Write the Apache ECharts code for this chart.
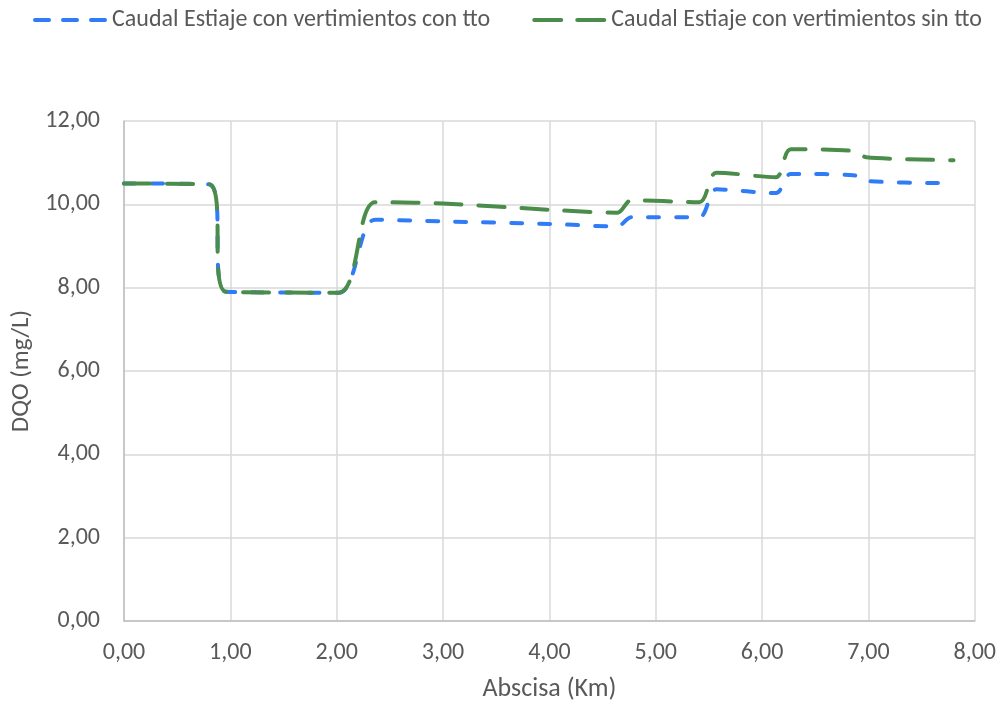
<!DOCTYPE html>
<html>
<head>
<meta charset="utf-8">
<script src="https://cdn.jsdelivr.net/npm/echarts@6/dist/echarts.min.js"></script>
<style>
  html, body { margin: 0; padding: 0; background: #fff; }
  #chart { width: 999px; height: 707px; }
</style>
</head>
<body>
<div id="chart"></div>
<script>
// abscisa (km) shared by both series
const abscisa = [0, 0.80, 0.96, 2.02, 2.36, 3.0, 4.0, 4.64, 4.77, 5.41, 5.57, 6.13, 6.27, 6.86, 6.98, 7.8]
const conTto = [10.50, 10.48, 7.90, 7.88, 9.63, 9.59, 9.53, 9.47, 9.69, 9.69, 10.36, 10.27, 10.73, 10.70, 10.56, 10.51]
const sinTto = [10.50, 10.48, 7.90, 7.88, 10.05, 10.02, 9.87, 9.80, 10.10, 10.05, 10.76, 10.65, 11.32, 11.28, 11.13, 11.06]

const nombres = ['Caudal Estiaje con vertimientos con tto', 'Caudal Estiaje con vertimientos sin tto']
const font = 'Calibri, Carlito, "Open Sans", sans-serif'
const fmt = v => v.toFixed(2).replace('.', ',')

const chart = echarts.init(document.getElementById('chart'))

chart.setOption({
    animation: false,
    textStyle: { fontFamily: font },
    legend: {
        top: 3,
        left: 28,
        itemWidth: 72,
        itemHeight: 14,
        itemGap: 42,
        itemStyle: { opacity: 0 },
        textStyle: { fontSize: 24, color: '#595959', fontFamily: font },
        data: [
            { name: nombres[0], lineStyle: { width: 4, type: [14, 14], cap: 'round' } },
            { name: nombres[1], lineStyle: { width: 4, type: [27, 16], cap: 'round' } }
        ]
    },
    grid: { left: 124, right: 24, top: 121, bottom: 84 },
    xAxis: {
        type: 'value',
        min: 0, max: 8, interval: 1,
        name: 'Abscisa (Km)',
        nameLocation: 'middle',
        nameGap: 55,
        nameTextStyle: { fontSize: 26, color: '#595959' },
        axisLine: { show: true, lineStyle: { color: '#bfbfbf', width: 1.5 } },
        axisTick: { show: false },
        axisLabel: { fontSize: 24, color: '#595959', margin: 20, formatter: fmt },
        splitLine: { show: true, lineStyle: { color: '#d9d9d9', width: 1.5 } }
    },
    yAxis: {
        type: 'value',
        min: 0, max: 12, interval: 2,
        name: 'DQO (mg/L)',
        nameLocation: 'middle',
        nameGap: 88,
        nameTextStyle: { fontSize: 25, color: '#595959' },
        axisLine: { show: true, lineStyle: { color: '#bfbfbf', width: 1.5 } },
        axisTick: { show: false },
        axisLabel: { fontSize: 24, color: '#595959', margin: 24, formatter: fmt },
        splitLine: { show: true, lineStyle: { color: '#d9d9d9', width: 1.5 } }
    },
    series: [
        {
            name: nombres[0],
            type: 'line',
            smooth: 0.3,
            symbol: 'none',
            data: abscisa.map((x, i) => [x, conTto[i]]),
            lineStyle: { color: '#2f7cf6', width: 4, type: [11, 17], cap: 'round' },
            itemStyle: { color: '#2f7cf6' },
            z: 2
        },
        {
            name: nombres[1],
            type: 'line',
            smooth: 0.3,
            symbol: 'none',
            data: abscisa.map((x, i) => [x, sinTto[i]]),
            lineStyle: { color: '#4a8c4a', width: 4, type: [26, 17], cap: 'round' },
            itemStyle: { color: '#4a8c4a' },
            z: 3
        }
    ]
})
</script>
</body>
</html>
